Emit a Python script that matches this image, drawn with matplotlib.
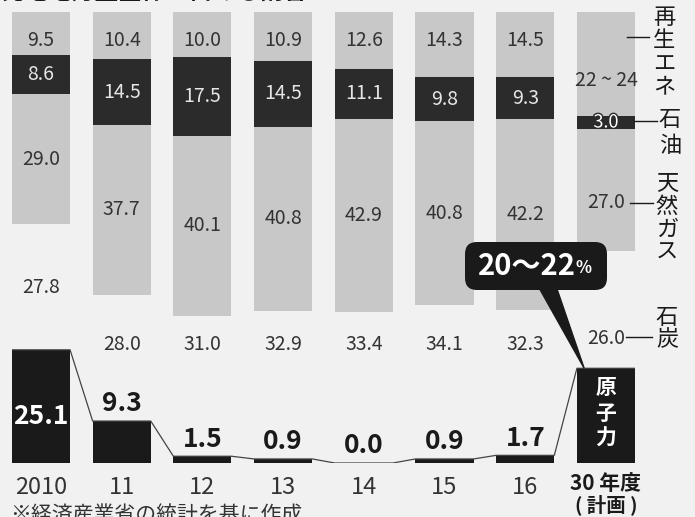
import matplotlib
matplotlib.use("Agg")
import matplotlib.pyplot as plt
from matplotlib.patches import FancyBboxPatch, Polygon
import matplotlib.patheffects as pe

plt.rcParams['font.family'] = ['Noto Sans CJK JP', 'DejaVu Sans']

# ---- data (percent of total power generation) ----
years = ['2010', '11', '12', '13', '14', '15', '16']
plan_label = '30 年度'
plan_sub = '( 計画 )'
nuclear = [25.1, 9.3, 1.5, 0.9, 0.0, 0.9, 1.7]
nuclear_plan = (20, 22)
coal = [27.8, 28.0, 31.0, 32.9, 33.4, 34.1, 32.3, 26.0]
gas = [29.0, 37.7, 40.1, 40.8, 42.9, 40.8, 42.2, 27.0]
oil = [8.6, 14.5, 17.5, 14.5, 11.1, 9.8, 9.3, 3.0]
renew = [9.5, 10.4, 10.0, 10.9, 12.6, 14.3, 14.5]
renew_plan = (22, 24)
source_names = ['再生エネ', '石油', '天然ガス', '石炭', '原子力']
title = '発電電力量全体に占める割合'
note = '※経済産業省の統計を基に作成'

BG = '#f1f1f1'
GRAY = '#c8c8c8'
DARK = '#2b2b2b'
BLACK = '#1a1a1a'
TXT = '#333333'

W_PX, H_PX = 695, 517
fig = plt.figure(figsize=(W_PX / 100, H_PX / 100), dpi=100, facecolor=BG)

BASE_PX, TOP_PX = 463, 12
X0_PX, STEP_PX = 41, 80.71
ax = fig.add_axes([0, (H_PX - BASE_PX) / H_PX, 1, (BASE_PX - TOP_PX) / H_PX])
ax.set_xlim(-X0_PX / STEP_PX, (W_PX - X0_PX) / STEP_PX)
ax.set_ylim(0, 100)
ax.axis('off')
ax.set_facecolor('none')

# overlay axes in pixel coordinates for annotation decorations
ov = fig.add_axes([0, 0, 1, 1], zorder=5)
ov.set_xlim(0, W_PX)
ov.set_ylim(H_PX, 0)
ov.axis('off')
ov.set_facecolor('none')


def py(px):
    return (BASE_PX - px) / ((BASE_PX - TOP_PX) / 100)


nuc_all = nuclear + [sum(nuclear_plan) / 2]
ren_all = renew + [sum(renew_plan) / 2]
n = len(nuc_all)
xs = list(range(n))
W = 0.72

b1 = nuc_all
b2 = [a + b for a, b in zip(b1, coal)]
b3 = [a + b for a, b in zip(b2, gas)]
b4 = [a + b for a, b in zip(b3, oil)]

ax.bar(xs, nuc_all, width=W, color=BLACK, zorder=3)
ax.bar(xs, gas, bottom=b2, width=W, color=GRAY, zorder=2)
ax.bar(xs, oil, bottom=b3, width=W, color=DARK, zorder=2)
ax.bar(xs, ren_all, bottom=b4, width=W, color=GRAY, zorder=2)

# connecting line along nuclear tops
lx, ly = [], []
for i in range(n):
    lx += [xs[i] - W / 2, xs[i] + W / 2]
    ly += [nuc_all[i], nuc_all[i]]
ax.plot(lx, ly, color='#444444', lw=0.9, zorder=4, solid_capstyle='butt')

# value labels
for i in range(n):
    plan = i == n - 1
    # renewables
    if plan:
        ax.text(xs[i], py(80), f'{renew_plan[0]} ~ {renew_plan[1]}', ha='center', va='center',
                fontsize=14, color=TXT)
    else:
        ax.text(xs[i], py(40), f'{renew[i]:.1f}', ha='center', va='center', fontsize=14, color=TXT)
    # oil
    if plan:
        ax.text(xs[i], b3[i] + oil[i] / 2, f'{oil[i]:.1f}', ha='center', va='center', fontsize=13,
                color='white', zorder=6,
                path_effects=[pe.withStroke(linewidth=2, foreground=DARK)])
    else:
        ax.text(xs[i], b3[i] + oil[i] / 2, f'{oil[i]:.1f}', ha='center', va='center', fontsize=14,
                color='#e6e6e6')
    # gas
    gy = py(203) if plan else b2[i] + gas[i] / 2
    ax.text(xs[i], gy, f'{gas[i]:.1f}', ha='center', va='center', fontsize=14, color=TXT)
    # coal
    if i == 0:
        cy = b1[i] + coal[i] / 2
    elif plan:
        cy = py(338)
    else:
        cy = py(344)
    ax.text(xs[i], cy, f'{coal[i]:.1f}', ha='center', va='center', fontsize=14, color=TXT)
    # nuclear
    if i == 0:
        ax.text(xs[i], py(417), f'{nuclear[i]:.1f}', ha='center', va='center', fontsize=19,
                fontweight='bold', color='white', zorder=5)
    elif not plan:
        ax.text(xs[i], nuclear[i] + 3.8, f'{nuclear[i]:.1f}', ha='center', va='center',
                fontsize=19, fontweight='bold', color=BLACK, zorder=5)

# x labels
for i, y in enumerate(years):
    ax.text(xs[i], py(487), y, ha='center', va='center', fontsize=17, color=TXT, clip_on=False)
ax.text(xs[-1], py(484), plan_label, ha='center', va='center', fontsize=15, fontweight='bold',
        color=BLACK, clip_on=False)
ax.text(xs[-1], py(505), plan_sub, ha='center', va='center', fontsize=14, fontweight='bold',
        color=BLACK, clip_on=False)

# 原子力 vertical inside plan bar
for k, ch in enumerate(source_names[4]):
    ax.text(xs[-1], py(388 + 25 * k), ch, ha='center', va='center', fontsize=15,
            fontweight='bold', color='white', zorder=6)


# right-side vertical labels with leader lines (pixel overlay)
def vtext(s, xc, y0, step, size=16):
    for k, ch in enumerate(s):
        ov.text(xc, y0 + step * k, ch, ha='center', va='center', fontsize=size, color=BLACK)


vtext(source_names[0], 664, 18, 23)
ov.plot([627, 649], [37, 37], color=BLACK, lw=1.0)
vtext(source_names[1], 670, 120, 26)
ov.plot([634, 657], [121, 121], color=BLACK, lw=1.0)
vtext(source_names[2], 667, 183, 23)
ov.plot([630, 653], [203, 203], color=BLACK, lw=1.0)
vtext(source_names[3], 667, 318, 22)
ov.plot([626, 652], [337, 337], color=BLACK, lw=1.0)

# callout for plan nuclear
tip = ax.transData.transform((xs[-1] - W / 2 + 0.09, nuc_all[-1]))
tip_px = (tip[0], H_PX - tip[1])
ov.add_patch(Polygon([(538, 286), (556, 286), tip_px], closed=True, color=BLACK, zorder=6))
ov.add_patch(FancyBboxPatch((465, 242), 142, 48, boxstyle='round,pad=0,rounding_size=12',
                            facecolor=BLACK, edgecolor='none', zorder=6))
ov.text(527, 266, f'{nuclear_plan[0]}～{nuclear_plan[1]}', ha='center', va='center', fontsize=21,
        fontweight='bold', color='white', zorder=7)
ov.text(583, 268, '%', ha='center', va='center', fontsize=12, fontweight='bold', color='white',
        zorder=7)

# title and note, partly outside the frame as in the scanned source
fig.text(0.0, 1 - 4 / H_PX, title, ha='left', va='bottom', fontsize=17, fontweight='bold',
         color=BLACK)
fig.text(10 / W_PX, 1 - 504 / H_PX, note, ha='left', va='top', fontsize=15, color=TXT)

fig.savefig('out.png', dpi=100, facecolor=BG)
